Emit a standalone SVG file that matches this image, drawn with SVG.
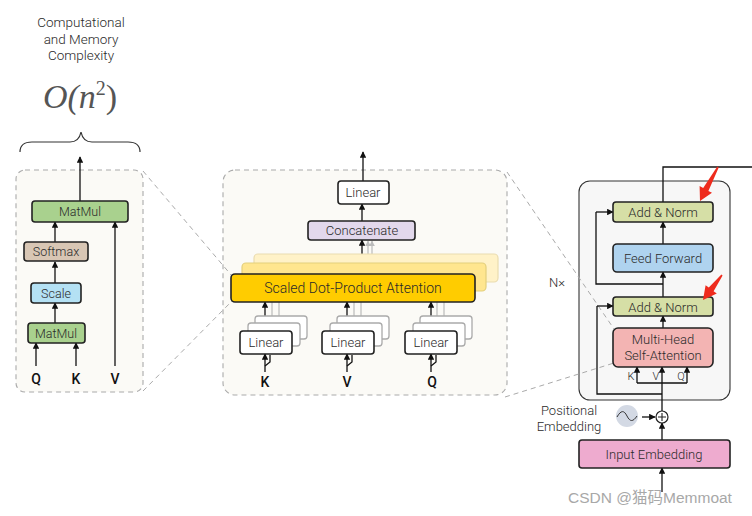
<svg xmlns="http://www.w3.org/2000/svg" width="752" height="516" viewBox="0 0 752 516">
<defs>
<marker id="ah" viewBox="0 0 10 10" refX="9" refY="5" markerWidth="5" markerHeight="5" orient="auto-start-reverse"><path d="M0,0 L10,5 L0,10 z" fill="#111"/></marker>
<marker id="ahg" viewBox="0 0 10 10" refX="9" refY="5" markerWidth="5" markerHeight="5" orient="auto"><path d="M0,0 L10,5 L0,10 z" fill="#bbb"/></marker>
<style>
text{font-family:Roboto,"Liberation Sans",sans-serif;font-weight:300;fill:#2a2a2a;}
.lbl{font-size:13px;text-anchor:middle;}
.sm{font-size:12.5px;text-anchor:middle;}
.io{font-size:14px;font-weight:500;text-anchor:middle;fill:#111;}
.box{stroke:#222;stroke-width:1.6;}
.ln{stroke:#111;stroke-width:1.3;fill:none;}
.arr{stroke:#111;stroke-width:1.3;fill:none;marker-end:url(#ah);}
.gl{stroke:#bbb;stroke-width:1.2;fill:none;}
.panel{fill:#fbfaf6;stroke:#aaa;stroke-width:1.1;stroke-dasharray:5 4;}
.dash{stroke:#aaa;stroke-width:1;stroke-dasharray:5 4;fill:none;}
.shadow{fill:#fff;stroke:#aaa;stroke-width:1.3;}
</style>
</defs>
<rect width="752" height="516" fill="#fff"/>

<!-- header -->
<g id="header">
<text x="81" y="27" font-size="13.5" text-anchor="middle">Computational</text>
<text x="81" y="44" font-size="13.5" text-anchor="middle">and Memory</text>
<text x="81" y="60" font-size="13.5" text-anchor="middle">Complexity</text>
<text x="80" y="108" font-size="34" text-anchor="middle" style="font-family:'Liberation Serif',serif;font-weight:normal;font-style:italic;fill:#555">O(n<tspan font-size="20" dy="-13" font-style="normal">2</tspan><tspan dy="13" font-style="normal">)</tspan></text>
<path d="M20,152 Q20,142 32,142 L70,142 Q79,142 81,132 Q83,142 92,142 L128,142 Q140,142 140,152" fill="none" stroke="#333" stroke-width="1.2"/>
</g>

<!-- panels -->
<g id="panels">
<rect class="panel" x="16" y="170" width="127" height="222" rx="9"/>
<rect class="panel" x="223" y="170" width="284" height="225" rx="12"/>
<rect x="579" y="181" width="151" height="219" rx="11" fill="#f7f7f7" stroke="#333" stroke-width="1.1"/>
</g>

<!-- zoom guide lines -->
<g id="guides">
<path class="dash" d="M143,171 L232,276"/>
<path class="dash" d="M143,391 L232,301"/>
<path class="dash" d="M507,172 L614,329"/>
<path class="dash" d="M505,397 L614,363"/>
</g>

<!-- connectors -->
<g id="connectors">
<path class="arr" d="M80,201 L80,157"/>
<path class="arr" d="M55,283 L55,262"/>
<path class="arr" d="M55,242 L55,222"/>
<path class="arr" d="M55,323 L55,303"/>
<path class="arr" d="M36,366 L36,343"/>
<path class="arr" d="M76,366 L76,343"/>
<path class="arr" d="M115,366 L115,222"/>
<path class="arr" d="M363,181 L363,152"/>
<path class="arr" d="M362,221 L362,204"/>
<path class="gl" d="M368,254 L368,241" marker-end="url(#ahg)"/>
<path class="gl" d="M372,254 L372,241" marker-end="url(#ahg)"/>
<path class="arr" d="M362,274 L362,240"/>
<g id="k-lines">
<path class="gl" d="M272,323 L272,302"/><path class="gl" d="M279,316 L279,302"/>
<path class="arr" d="M265,331 L265,302"/>
<path class="arr" d="M265,372 L265,354"/>
<path class="ln" d="M265,366 L270,362 L270,355" stroke-width="1"/>
</g>
<g id="v-lines">
<path class="gl" d="M354,323 L354,302"/><path class="gl" d="M361,316 L361,302"/>
<path class="arr" d="M347,331 L347,302"/>
<path class="arr" d="M347,372 L347,354"/>
<path class="ln" d="M347,366 L352,362 L352,355" stroke-width="1"/>
</g>
<g id="q-lines">
<path class="gl" d="M437,323 L437,302"/><path class="gl" d="M444,316 L444,302"/>
<path class="arr" d="M431,331 L431,302"/>
<path class="arr" d="M431,372 L431,354"/>
<path class="ln" d="M431,366 L436,362 L436,355" stroke-width="1"/>
</g>
<path class="ln" d="M663,202 L663,167 L752,167"/>
<path class="arr" d="M663,244 L663,222"/>
<path class="arr" d="M663,297 L663,272"/>
<path class="ln" d="M663,284 L596,284 L596,212"/>
<path class="arr" d="M596,212 L613,212"/>
<path class="arr" d="M663,328 L663,316"/>
<path class="arr" d="M662,411 L662,367"/>
<path class="ln" d="M637,383 L687,383"/>
<path class="arr" d="M637,383 L637,367"/>
<path class="arr" d="M687,383 L687,367"/>
<path class="ln" d="M662,394 L597,394 L597,306"/>
<path class="arr" d="M597,306 L613,306"/>
<path class="arr" d="M642,417 L655,417"/>
<path class="arr" d="M662,440 L662,423"/>
<path class="arr" d="M662,492 L662,468"/>
</g>

<!-- left nodes -->
<g id="matmul-top"><rect class="box" x="32" y="201" width="96" height="21" rx="3" fill="#a9d18e"/><text class="sm" x="80" y="216">MatMul</text></g>
<g id="softmax"><rect class="box" x="24" y="242" width="64" height="19" rx="3" fill="#d8c6b4"/><text class="sm" x="56" y="256">Softmax</text></g>
<g id="scale"><rect class="box" x="31" y="283" width="50" height="20" rx="3" fill="#b4e1f4"/><text class="sm" x="56" y="297.5">Scale</text></g>
<g id="matmul-bottom"><rect class="box" x="28" y="323" width="57" height="20" rx="3" fill="#a9d18e"/><text class="sm" x="56" y="337.5">MatMul</text></g>
<g id="left-inputs"><text class="io" x="36" y="384">Q</text><text class="io" x="76" y="384">K</text><text class="io" x="115" y="384">V</text></g>

<!-- middle nodes -->
<g id="linear-out"><rect class="box" x="338" y="181" width="51" height="23" rx="3" fill="#fff"/><text class="lbl" x="363" y="197">Linear</text></g>
<g id="concat"><rect class="box" x="308" y="221" width="107" height="19" rx="3" fill="#e2d8ec"/><text class="lbl" x="362" y="235">Concatenate</text></g>
<g id="sdpa">
<rect x="254" y="254" width="244" height="28" rx="4" fill="#fff2c8" stroke="#eadcb0" stroke-width="1.2"/>
<rect x="242" y="263" width="244" height="28" rx="4" fill="#ffe68f" stroke="#e3cf7c" stroke-width="1.2"/>
<rect class="box" x="231" y="274" width="244" height="28" rx="4" fill="#ffcc00"/>
<text x="353" y="293" font-size="14" text-anchor="middle">Scaled Dot-Product Attention</text>
</g>
<g id="linear-k"><rect class="shadow" x="255" y="316" width="52" height="23" rx="3"/><rect class="shadow" x="248" y="323" width="52" height="23" rx="3"/><rect class="box" x="240" y="331" width="52" height="23" rx="3" fill="#fff"/><text class="lbl" x="266" y="347">Linear</text></g>
<g id="linear-v"><rect class="shadow" x="337" y="316" width="52" height="23" rx="3"/><rect class="shadow" x="330" y="323" width="52" height="23" rx="3"/><rect class="box" x="322" y="331" width="52" height="23" rx="3" fill="#fff"/><text class="lbl" x="348" y="347">Linear</text></g>
<g id="linear-q"><rect class="shadow" x="420" y="316" width="52" height="23" rx="3"/><rect class="shadow" x="413" y="323" width="52" height="23" rx="3"/><rect class="box" x="405" y="331" width="52" height="23" rx="3" fill="#fff"/><text class="lbl" x="431" y="347">Linear</text></g>
<g id="mid-inputs"><text class="io" x="265" y="387">K</text><text class="io" x="347" y="387">V</text><text class="io" x="432" y="387">Q</text></g>

<!-- right nodes -->
<g id="addnorm-top"><rect class="box" x="613" y="202" width="100" height="20" rx="3" fill="#d6dfa6"/><text class="lbl" x="663" y="216.5" font-size="13.5">Add &amp; Norm</text></g>
<g id="feedforward"><rect class="box" x="613" y="244" width="100" height="28" rx="4" fill="#afd3ef"/><text class="lbl" x="663" y="262.5" font-size="13.5">Feed Forward</text></g>
<g id="addnorm-bottom"><rect class="box" x="613" y="297" width="100" height="19" rx="3" fill="#d6dfa6"/><text class="lbl" x="663" y="311.5" font-size="13.5">Add &amp; Norm</text></g>
<g id="mhsa"><rect class="box" x="613" y="328" width="100" height="39" rx="5" fill="#f3b4b3"/><text class="lbl" x="663" y="344" font-size="13.5">Multi-Head</text><text class="lbl" x="663" y="360" font-size="13.5">Self-Attention</text></g>
<g id="kvq-labels"><text x="631" y="380" font-size="11" text-anchor="middle" fill="#234">K</text><text x="656" y="380" font-size="11" text-anchor="middle">V</text><text x="681" y="380" font-size="11" text-anchor="middle">Q</text></g>
<g id="nx"><text x="557" y="287" font-size="13" text-anchor="middle">N×</text></g>
<g id="posenc">
<text x="569" y="415" font-size="13" text-anchor="middle">Positional</text>
<text x="569" y="431" font-size="13" text-anchor="middle">Embedding</text>
<circle cx="627" cy="416" r="11" fill="#d3d9e4"/>
<path d="M617,417 C621,410 624,410 627,416 C630,422 633,422 637,416" fill="none" stroke="#333" stroke-width="1"/>
</g>
<g id="plus"><circle cx="662" cy="417" r="6" fill="#fff" stroke="#222" stroke-width="1.2"/><path d="M658,417 L666,417 M662,413 L662,421" stroke="#222" stroke-width="1.1"/></g>
<g id="input-emb"><rect class="box" x="579" y="440" width="151" height="28" rx="3" fill="#eeabcf"/><text class="lbl" x="654" y="459" font-size="13.5">Input Embedding</text></g>

<g id="red-arrows" fill="#ee2b1d">
<polygon points="718.7,167.4 708.4,190.9 712,192.8 700,201 699.6,186 703.2,187.9 717.3,166.6"/>
<polygon points="722.6,275.5 713.6,291.2 716.8,293.6 703,300 705.6,285.2 708.8,287.6 721.4,274.5"/>
</g>

<g id="watermark"><text x="650" y="503" font-size="15.5" text-anchor="middle" style="fill:#a8a8a8;font-weight:normal;font-family:'Liberation Sans','Noto Sans CJK SC',sans-serif">CSDN @猫码Memmoat</text></g>
</svg>
